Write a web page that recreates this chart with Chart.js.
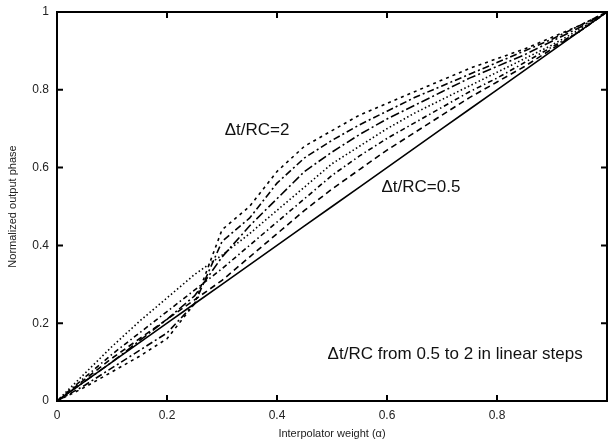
<!DOCTYPE html>
<html>
<head>
<meta charset="utf-8">
<script src="https://cdn.jsdelivr.net/npm/chart.js@4.4.1/dist/chart.umd.min.js"></script>
<style>
  html, body { margin: 0; padding: 0; background: #fff; }
  #wrap { width: 608px; height: 441px; }
</style>
</head>
<body>
<div id="wrap"><canvas id="phaseChart" width="608" height="441"></canvas></div>
<script>
// ===== data =====
const alphaValues = [0, 0.05, 0.1, 0.15, 0.2, 0.25, 0.3, 0.35, 0.4, 0.45, 0.5,
                     0.55, 0.6, 0.65, 0.7, 0.75, 0.8, 0.85, 0.9, 0.95, 1];

// dt/RC = 2 (top at high alpha) ... down to the lowest dashed one
const curveA = [0, 0.035, 0.075, 0.115, 0.16, 0.25, 0.44, 0.50, 0.59, 0.655, 0.695, 0.735, 0.765, 0.795, 0.825, 0.855, 0.88, 0.905, 0.935, 0.965, 1];
const curveB = [0, 0.04, 0.085, 0.13, 0.175, 0.25, 0.41, 0.47, 0.56, 0.625, 0.67, 0.71, 0.745, 0.78, 0.81, 0.84, 0.87, 0.90, 0.93, 0.965, 1];
const curveC = [0, 0.05, 0.10, 0.155, 0.21, 0.27, 0.37, 0.45, 0.52, 0.59, 0.64, 0.685, 0.725, 0.76, 0.795, 0.83, 0.86, 0.89, 0.925, 0.96, 1];
const curveD = [0, 0.07, 0.14, 0.205, 0.265, 0.325, 0.375, 0.43, 0.49, 0.55, 0.61, 0.655, 0.70, 0.74, 0.775, 0.81, 0.845, 0.88, 0.915, 0.955, 1];
const curveE = [0, 0.06, 0.12, 0.175, 0.23, 0.285, 0.34, 0.40, 0.46, 0.52, 0.58, 0.63, 0.675, 0.715, 0.755, 0.795, 0.83, 0.87, 0.91, 0.95, 1];
const curveF = [0, 0.055, 0.11, 0.16, 0.21, 0.26, 0.31, 0.37, 0.43, 0.49, 0.545, 0.595, 0.645, 0.69, 0.735, 0.78, 0.82, 0.86, 0.905, 0.95, 1];
const curveLinear = [0, 0.05, 0.1, 0.15, 0.2, 0.25, 0.3, 0.35, 0.4, 0.45, 0.5, 0.55, 0.6, 0.65, 0.7, 0.75, 0.8, 0.85, 0.9, 0.95, 1];

const xTicks = [0, 0.2, 0.4, 0.6, 0.8, 1];
const yTicks = [0, 0.2, 0.4, 0.6, 0.8, 1];

const annotations = [
    { text: '\u0394t/RC=2', x: 0.305, y: 0.695 },
    { text: '\u0394t/RC=0.5', x: 0.59, y: 0.55 },
    { text: '\u0394t/RC from 0.5 to 2 in linear steps', x: 0.492, y: 0.12 }
];

// ===== helpers =====
function toPoints(ys) {
    return ys.map((y, i) => ({ x: alphaValues[i], y: y }));
}

function makeSet(label, ys, dash) {
    return {
        label: label,
        data: toPoints(ys),
        borderColor: '#000',
        borderWidth: 1.6,
        borderDash: dash,
        pointRadius: 0,
        fill: false,
        tension: 0
    };
}

// frame + inward ticks on all four sides
const framePlugin = {
    id: 'frame',
    afterDraw(chart) {
        const ctx = chart.ctx;
        const a = chart.chartArea;
        const xs = chart.scales.x;
        const ys = chart.scales.y;
        ctx.save();
        ctx.strokeStyle = '#000';
        ctx.lineWidth = 2;
        ctx.strokeRect(a.left, a.top, a.right - a.left, a.bottom - a.top);
        ctx.beginPath();
        xTicks.forEach(v => {
            const px = xs.getPixelForValue(v);
            ctx.moveTo(px, a.bottom); ctx.lineTo(px, a.bottom - 6);
            ctx.moveTo(px, a.top); ctx.lineTo(px, a.top + 6);
        });
        yTicks.forEach(v => {
            const py = ys.getPixelForValue(v);
            ctx.moveTo(a.left, py); ctx.lineTo(a.left + 6, py);
            ctx.moveTo(a.right, py); ctx.lineTo(a.right - 6, py);
        });
        ctx.stroke();

        ctx.fillStyle = '#111';
        ctx.font = '17px "Liberation Sans", Arial, sans-serif';
        ctx.textBaseline = 'middle';
        annotations.forEach(t => {
            ctx.fillText(t.text, xs.getPixelForValue(t.x), ys.getPixelForValue(t.y));
        });
        ctx.restore();
    }
};

Chart.defaults.font.family = '"Liberation Sans", Arial, sans-serif';
Chart.defaults.color = '#222';

new Chart(document.getElementById('phaseChart'), {
    type: 'line',
    data: {
        datasets: [
            makeSet('dt/RC=2', curveA, [3, 4]),
            makeSet('c2', curveB, [7, 3, 2, 3]),
            makeSet('c3', curveC, [9, 3, 2, 3]),
            makeSet('c4', curveD, [1.5, 2.5]),
            makeSet('c5', curveE, [5, 3, 1.5, 3]),
            makeSet('c6', curveF, [6, 4]),
            makeSet('linear', curveLinear, [])
        ]
    },
    options: {
        responsive: false,
        animation: false,
        layout: { padding: { top: 12, right: 1, left: 0, bottom: 0 } },
        plugins: { legend: { display: false }, tooltip: { enabled: false } },
        scales: {
            x: {
                type: 'linear',
                min: 0,
                max: 1,
                grid: { display: false },
                border: { display: false },
                afterBuildTicks: s => { s.ticks = xTicks.map(v => ({ value: v })); },
                afterFit: s => { s.height = 40; },
                ticks: {
                    padding: -1,
                    font: { size: 12 },
                    maxRotation: 0,
                    callback: v => (v === 1 ? '' : String(v))
                },
                title: {
                    display: true,
                    text: 'Interpolator weight (\u03b1)',
                    font: { size: 11 },
                    padding: { top: 0, bottom: 0 }
                }
            },
            y: {
                type: 'linear',
                min: 0,
                max: 1,
                grid: { display: false },
                border: { display: false },
                afterBuildTicks: s => { s.ticks = yTicks.map(v => ({ value: v })); },
                afterFit: s => { s.width = 57; },
                ticks: {
                    padding: 0,
                    font: { size: 12 },
                    callback: v => String(v)
                },
                title: {
                    display: true,
                    text: 'Normalized output phase',
                    font: { size: 11 },
                    padding: { top: 6, bottom: 0 }
                }
            }
        }
    },
    plugins: [framePlugin]
});
</script>
</body>
</html>
